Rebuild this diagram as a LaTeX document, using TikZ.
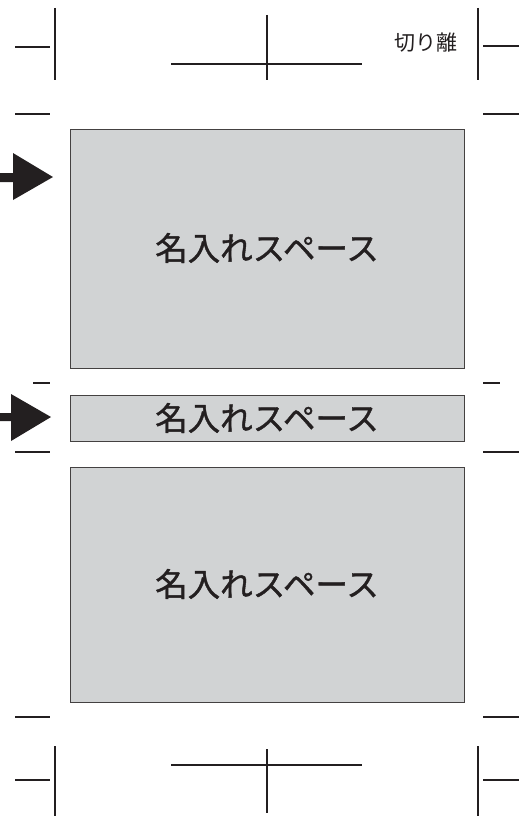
\documentclass[tikz,border=0pt]{standalone}
\usepackage{fontspec}
\newfontfamily\jp{Noto Sans CJK JP}
\newfontfamily\jpbold[FakeBold=1.2]{Noto Sans CJK JP}
\definecolor{boxfill}{HTML}{D1D3D4}
\definecolor{ink}{HTML}{231F20}
\tikzset{
  crop/.style={draw=ink, line width=1.1pt},
  spacebox/.style={draw=ink!85, line width=1.4pt, fill=boxfill, rectangle, inner sep=0pt, anchor=north west},
  bigtext/.style={font=\jpbold\fontsize{32.5}{32.5}\selectfont, text=ink},
  pointer/.style={fill=ink, draw=none}
}
\begin{document}
\begin{tikzpicture}[x=1pt,y=-1pt]
\useasboundingbox (0,0) rectangle (531,816);
% top crop marks
\draw[crop] (55,8) -- (55,80);
\draw[crop] (15,47) -- (50,47);
\draw[crop] (15,114) -- (50,114);
\draw[crop] (171,64) -- (362,64);
\draw[crop] (267,15) -- (267,80);
\draw[crop] (478,8) -- (478,80);
\draw[crop] (483,46) -- (519,46);
\draw[crop] (483,114) -- (519,114);
\node[font=\jp\fontsize{21}{21}\selectfont, text=ink] (cut) at (426,43) {切り離};
% boxes
\node[spacebox, minimum width=394pt, minimum height=239pt] (b1) at (70,129) {};
\node[bigtext] (t1) at (267,248) {名入れスペース};
\node[spacebox, minimum width=394pt, minimum height=46pt] (b2) at (70,395) {};
\node[bigtext] (t2) at (267,418) {名入れスペース};
\node[spacebox, minimum width=394pt, minimum height=235pt] (b3) at (70,467) {};
\node[bigtext] (t3) at (267,584) {名入れスペース};
% arrows
\fill[pointer] (0,173) -- (13,173) -- (13,153) -- (53,177) -- (13,200) -- (13,182) -- (0,182) -- cycle;
\fill[pointer] (0,413) -- (11,413) -- (11,394) -- (51,417) -- (11,441) -- (11,421) -- (0,421) -- cycle;
% middle marks
\draw[crop] (33,383) -- (50,383);
\draw[crop] (15,452) -- (50,452);
\draw[crop] (483,383) -- (500,383);
\draw[crop] (483,452) -- (519,452);
% bottom crop marks
\draw[crop] (15,717) -- (50,717);
\draw[crop] (483,717) -- (519,717);
\draw[crop] (55,746) -- (55,816);
\draw[crop] (15,780) -- (50,780);
\draw[crop] (171,765) -- (362,765);
\draw[crop] (267,749) -- (267,813);
\draw[crop] (478,746) -- (478,816);
\draw[crop] (483,780) -- (519,780);
\end{tikzpicture}
\end{document}
